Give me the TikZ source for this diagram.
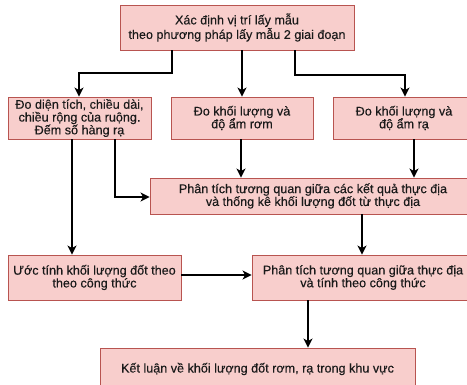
\documentclass[tikz,border=0pt]{standalone}
\usepackage{fontspec}
\setmainfont{Liberation Sans}
\newfontfamily\boxfont{Liberation Sans}[FakeBold=0.3]
\usetikzlibrary{arrows.meta}
\definecolor{boxfill}{HTML}{F8CECC}
\definecolor{boxline}{HTML}{B85450}
\definecolor{ink}{HTML}{1A1A1A}
\begin{document}
\begin{tikzpicture}[x=1pt,y=-1pt,
  box/.style={draw=boxline, fill=boxfill, line width=0.9pt, rectangle,
    align=center, inner sep=0pt, text=ink,
    font=\boxfont\fontsize{12.6}{12.8}\selectfont},
  flow/.style={draw=black, line width=1.6pt,
    -{Stealth[length=9pt,width=9pt,inset=2.5pt]}}]
\useasboundingbox (0,0) rectangle (467,385);

% boxes
\node[box, minimum width=234pt, minimum height=45pt] (top) at (237,27.5)
  {Xác định vị trí lấy mẫu\\theo phương pháp lấy mẫu 2 giai đoạn};
\node[box, minimum width=143pt, minimum height=42pt] (dien) at (79.5,118)
  {Đo diện tích, chiều dài,\\chiều rộng của ruộng.\\Đếm số hàng rạ};
\node[box, minimum width=142pt, minimum height=42pt] (rom) at (242,118)
  {Đo khối lượng và\\độ ẩm rơm};
\node[box, minimum width=142pt, minimum height=42pt] (ra) at (404,118)
  {Đo khối lượng và\\độ ẩm rạ};
\node[box, minimum width=326pt, minimum height=36pt] (pt1) at (313,196)
  {Phân tích tương quan giữa các kết quả thực địa\\và thống kê khối lượng đốt từ thực địa};
\node[box, minimum width=173pt, minimum height=45pt] (uoc) at (94.5,277.5)
  {Ước tính khối lượng đốt theo\\theo công thức};
\node[box, minimum width=222pt, minimum height=45pt] (pt2) at (363,277.5)
  {Phân tích tương quan giữa thực địa\\và tính theo công thức};
\node[box, minimum width=315pt, minimum height=42pt] (ket) at (257.5,369)
  {Kết luận về khối lượng đốt rơm, rạ trong khu vực};

% connectors
\draw[flow] (top.south -| 172,0) |- (79,73) -- (dien.north -| 79,0);
\draw[flow] (top.south -| 242,0) -- (rom.north -| 242,0);
\draw[flow] (top.south -| 295,0) |- (405,75) -- (ra.north -| 405,0);
\draw[flow] (dien.south -| 72,0) -- (uoc.north -| 72,0);
\draw[flow] (dien.south -| 115,0) |- (pt1.west |- 0,197);
\draw[flow] (rom.south -| 241,0) -- (pt1.north -| 241,0);
\draw[flow] (ra.south -| 414,0) -- (pt1.north -| 414,0);
\draw[flow] (pt1.south -| 362,0) -- (pt2.north -| 362,0);
\draw[flow] (uoc.east |- 0,275) -- (pt2.west |- 0,275);
\draw[flow] (pt2.south -| 308,0) -- (ket.north -| 308,0);
\end{tikzpicture}
\end{document}
